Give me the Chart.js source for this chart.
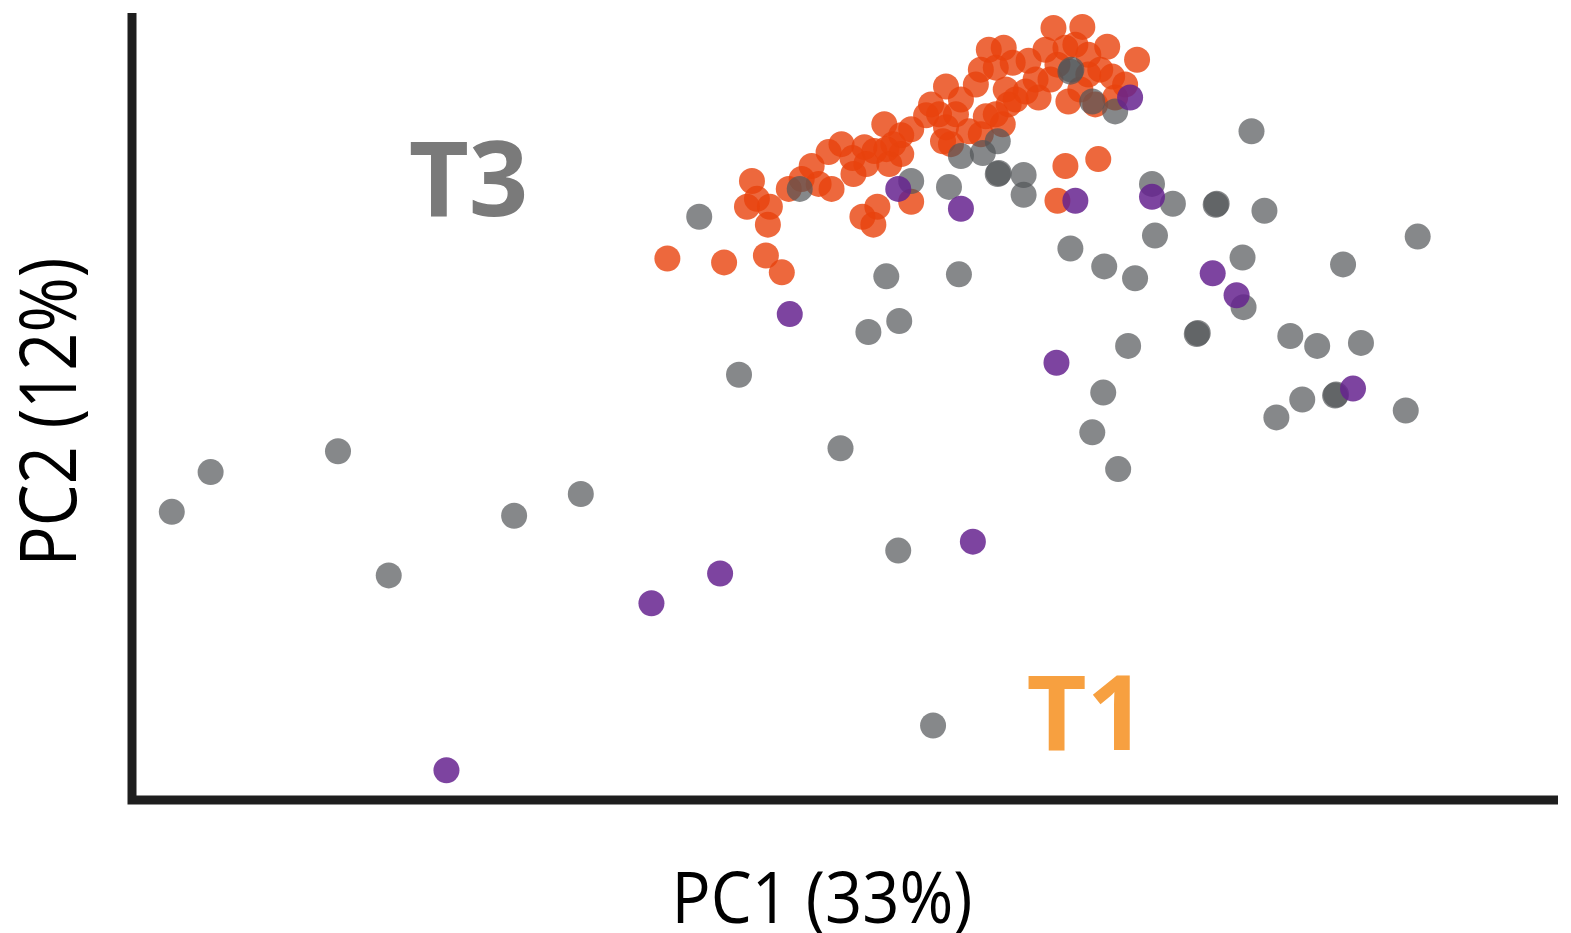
<!DOCTYPE html>
<html><head><meta charset="utf-8">
<script src="https://cdn.jsdelivr.net/npm/chart.js@4/dist/chart.umd.min.js"></script>
<style>html,body{margin:0;padding:0;background:#fff;overflow:hidden}canvas{display:block}</style>
</head><body><canvas id="c" width="1571" height="933"></canvas>
<script>
// PCA scores (arbitrary units)
const greyX=[40,79,207,258,384,451,570,610,712,758,740,771,770,805,831,821,783,671,833,855,871,870,896,896,870,944,943,965,988,1025,1046,1090,1089,1125,1138,1028,943,977,1008,1116,1117,1071,1070,1001,976,965,991,1164,1191,1235,1217,1292,1176,1210,1209,1150,1280];
const greyY=[290,330,351,226,286,308,587,428,354,527,471,482,251,75,529,617,623,615,648,651,631,630,629,609,663,735,733,703,693,620,600,600,599,673,593,568,555,537,525,546,496,470,469,457,410,370,333,467,457,460,539,567,403,408,407,385,392];
const purpleX=[316,522,591,845,661,929,770,833,948,1025,1003,1086,1110,1227];
const purpleY=[30,198,228,260,489,440,615,595,603,607,707,530,508,414];
const orangeX=[538,595,637,653,623,618,641,639,660,683,700,690,703,724,725,746,756,773,761,736,765,749,745,783,798,818,815,818,811,848,878,898,828,858,881,841,875,861,876,885,868,911,901,926,955,938,930,980,961,1010,961,985,988,941,968,938,971,930,
 773,738,734,803,833,853,823,868,888,853,918,948,973,998,953,923,908,628,673,713,758,783];
const orangeY=[545,541,548,531,623,597,597,579,615,638,652,620,615,646,630,653,680,669,640,657,660,597,579,602,689,718,663,677,690,720,715,713,690,688,700,673,680,755,757,742,737,707,744,777,778,757,740,758,750,745,730,728,707,703,700,638,645,603,
 650,640,587,700,705,670,660,690,705,735,755,760,735,720,715,725,725,605,625,660,655,675];
const xTitle='PC1 (33%)', yTitle='PC2 (12%)';
const labels=[{text:'T3',x:278,y:588,color:'#7a7a7a'},{text:'T1',x:899,y:50,color:'#f7a040'}];

const pts=(xs,ys)=>xs.map((x,i)=>({x:x,y:ys[i]}));
const ds=(xs,ys,c)=>({data:pts(xs,ys),backgroundColor:c,borderWidth:0,pointRadius:13,pointHoverRadius:13});

const deco={id:'deco',
 beforeDatasetsDraw(chart){
  const {ctx,chartArea:a}=chart;
  ctx.save();ctx.strokeStyle='#1e1e1e';ctx.lineWidth=9;ctx.lineCap='butt';
  ctx.beginPath();ctx.moveTo(a.left,a.top);ctx.lineTo(a.left,a.bottom+4.5);
  ctx.moveTo(a.left-4.5,a.bottom);ctx.lineTo(a.right,a.bottom);ctx.stroke();ctx.restore();
 },
 afterDraw(chart){
  const {ctx,scales:{x,y}}=chart;
  ctx.save();
  ctx.font='bold 104px "Open Sans"';ctx.textBaseline='alphabetic';ctx.textAlign='left';
  labels.forEach(l=>{ctx.fillStyle=l.color;ctx.fillText(l.text,x.getPixelForValue(l.x),y.getPixelForValue(l.y));});
  ctx.fillStyle='#000';ctx.font='71px "Open Sans"';ctx.textAlign='center';
  ctx.fillText(xTitle,822,923,301);
  ctx.font='78px "Open Sans"';
  ctx.translate(76,412);ctx.rotate(-Math.PI/2);ctx.fillText(yTitle,0,0,309);
  ctx.restore();
 }};

new Chart(document.getElementById('c'),{
 type:'scatter',
 data:{datasets:[
  ds(purpleX,purpleY,'rgba(102,35,143,0.85)'),
  ds(greyX,greyY,'rgba(82,86,88,0.7)'),
  ds(orangeX,orangeY,'rgba(233,66,12,0.8)')
 ]},
 options:{responsive:false,animation:false,
  layout:{padding:{left:132,top:8,right:6,bottom:133}},
  plugins:{legend:{display:false},tooltip:{enabled:false}},
  events:[],
  scales:{x:{type:'linear',display:false,min:0,max:1433},y:{type:'linear',display:false,min:0,max:792}}
 },
 plugins:[deco]
});
</script></body></html>
